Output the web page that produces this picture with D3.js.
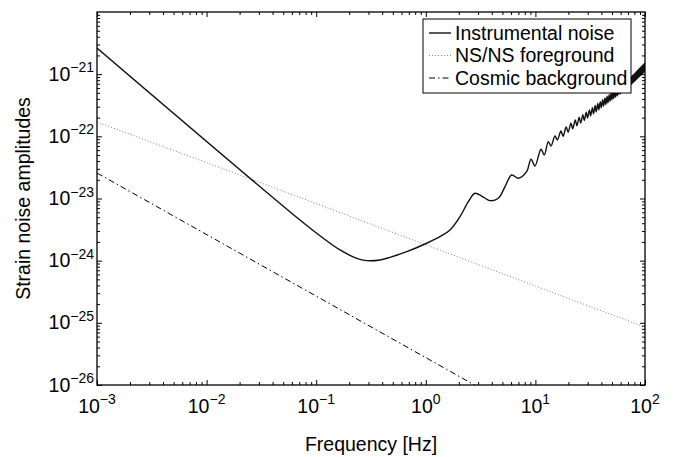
<!DOCTYPE html>
<html><head><meta charset="utf-8">
<script src="https://cdn.jsdelivr.net/npm/d3@7"></script>
<style>
body{margin:0;background:#fff}
text{font-family:"Liberation Sans",Arial,Helvetica,sans-serif;fill:#000}
</style>
</head><body><svg id="c" width="678" height="457"></svg>
<script>
// ---- data (strains stored as log10) ----
const xTickExps = [-3, -2, -1, 0, 1, 2];
const yTickExps = [-26, -25, -24, -23, -22, -21];
const seriesNames = ["Instrumental noise", "NS/NS foreground", "Cosmic background"];

const instFreq = [0.001, 0.0711, 0.1161, 0.1649, 0.2341, 0.2888, 0.3820, 0.4714, 0.670, 1.019,
  1.348, 1.663, 2.051, 2.443, 2.811, 3.236, 3.853, 4.586, 5.281, 6.077, 6.982, 8.31,
  9.120, 9.908, 11.25, 12.05, 13.12, 13.87, 15.10, 15.85,
  17.1, 17.9, 19.1, 19.9, 21.1, 21.9, 23.1, 23.9, 25.1, 25.9, 27.1, 27.9, 29.1, 29.9,
  31.1, 31.9, 33.1, 33.9, 35.1, 35.9, 37.1, 37.9, 39.1, 39.9, 41.1, 41.9, 43.1, 43.9,
  45.1, 45.9, 47.1, 47.9, 49.1, 49.9, 51.1, 51.9, 53.1, 53.9, 55.1, 55.9, 57.1, 57.9,
  59.1, 59.9, 61.1, 61.9, 63.1, 63.9, 65.1, 65.9, 67.1, 67.9, 69.1, 69.9, 71.1, 71.9,
  73.1, 73.9, 75.1, 75.9, 77.1, 77.9, 79.1, 79.9, 81.1, 81.9, 83.1, 83.9, 85.1, 85.9,
  87.1, 87.9, 89.1, 89.9, 91.1, 91.9, 93.1, 93.9, 95.1, 95.9, 97.1, 97.9, 99.1, 99.9];
const instLog = [-20.579, -23.346, -23.640, -23.828, -23.962, -24.000, -23.989, -23.946, -23.856, -23.720,
  -23.614, -23.507, -23.293, -23.051, -22.916, -22.960, -23.035, -22.997, -22.810, -22.622, -22.675, -22.569,
  -22.369, -22.477, -22.208, -22.300, -22.086, -22.155, -21.995, -22.059,
  -21.915, -21.998, -21.849, -21.934, -21.789, -21.877, -21.737, -21.829, -21.692, -21.786, -21.651, -21.745, -21.612, -21.707,
  -21.576, -21.672, -21.538, -21.639, -21.504, -21.605, -21.472, -21.572, -21.441, -21.543, -21.411, -21.514, -21.382, -21.489,
  -21.355, -21.462, -21.330, -21.438, -21.304, -21.415, -21.281, -21.392, -21.258, -21.369, -21.237, -21.349, -21.215, -21.327,
  -21.193, -21.310, -21.172, -21.287, -21.152, -21.267, -21.130, -21.249, -21.111, -21.229, -21.093, -21.212, -21.073, -21.193,
  -21.055, -21.176, -21.038, -21.160, -21.018, -21.140, -20.999, -21.120, -20.979, -21.104, -20.960, -21.085, -20.941, -21.068,
  -20.923, -21.050, -20.905, -21.034, -20.887, -21.018, -20.870, -21.001, -20.854, -20.986, -20.838, -20.971, -20.822, -20.955];

const fgFreq = [0.001, 0.0265, 1.02, 100];
const fgLog = [-21.77, -22.70, -23.75, -25.07];

const cbFreq = [0.001, 0.1, 1, 100];
const cbLog = [-22.59, -24.57, -25.56, -27.54];

// ---- layout ----
const L = 97, R = 645, T = 12, B = 385;
const svg = d3.select("#c");
const x = d3.scaleLog().domain([1e-3, 1e2]).range([L, R]);
const y = d3.scaleLog().domain([1e-26, 1e-20]).range([B, T]);

svg.append("defs").append("clipPath").attr("id", "clip")
  .append("rect").attr("x", L).attr("y", T).attr("width", R - L).attr("height", B - T);

const toPts = (fs, ls) => fs.map((f, i) => [f, Math.pow(10, ls[i])]);
const line = d3.line().x(d => x(d[0])).y(d => y(d[1])).curve(d3.curveCatmullRom.alpha(0.5));
const lineLin = d3.line().x(d => x(d[0])).y(d => y(d[1]));

const plot = svg.append("g").attr("clip-path", "url(#clip)");
plot.append("path").attr("d", lineLin(toPts(fgFreq, fgLog)))
  .attr("fill", "none").attr("stroke", "#808080").attr("stroke-width", 1).attr("stroke-dasharray", "1,2");
plot.append("path").attr("d", lineLin(toPts(cbFreq, cbLog)))
  .attr("fill", "none").attr("stroke", "#000").attr("stroke-width", 1).attr("stroke-dasharray", "6,3,1.5,3");
plot.append("path").attr("d", line(toPts(instFreq, instLog)))
  .attr("fill", "none").attr("stroke", "#111").attr("stroke-width", 1.4).attr("stroke-linejoin", "round");

// ---- legend ----
const lg = svg.append("g");
lg.append("rect").attr("x", 423).attr("y", 19).attr("width", 208).attr("height", 74)
  .attr("fill", "#fff").attr("stroke", "#000").attr("stroke-width", 1);
const lgStyles = [
  {stroke: "#111", dash: null, w: 1.4},
  {stroke: "#808080", dash: "1,2", w: 1},
  {stroke: "#000", dash: "6,3,1.5,3", w: 1}
];
seriesNames.forEach((name, i) => {
  const by = 39.5 + i * 22.5;
  const ly = by - 6.5;
  const s = lgStyles[i];
  const ln = lg.append("line").attr("x1", 429).attr("x2", 451).attr("y1", ly).attr("y2", ly)
    .attr("stroke", s.stroke).attr("stroke-width", s.w);
  if (s.dash) ln.attr("stroke-dasharray", s.dash);
  lg.append("text").attr("x", 455).attr("y", by).attr("font-size", 19.5).text(name);
});

// ---- axes ----
const minorVals = (lo, hi) => {
  const v = [];
  for (let d = lo; d < hi; d++) for (let k = 2; k <= 9; k++) v.push(k * Math.pow(10, d));
  return v;
};
const xMaj = xTickExps.map(e => Math.pow(10, e));
const yMaj = yTickExps.map(e => Math.pow(10, e));
const xMin = minorVals(-3, 2);
const yMin = minorVals(-26, -20);

function addAxis(gen, tr, vals, size) {
  const g = svg.append("g").attr("transform", tr)
    .call(gen.tickValues(vals).tickSize(size).tickSizeOuter(0).tickFormat(""));
  g.select(".domain").remove();
  g.selectAll("line").attr("stroke", "#000").attr("stroke-width", 1);
}
addAxis(d3.axisBottom(x), `translate(0,${B})`, xMaj, -5);
addAxis(d3.axisBottom(x), `translate(0,${B})`, xMin, -3);
addAxis(d3.axisTop(x), `translate(0,${T})`, xMaj, -5);
addAxis(d3.axisTop(x), `translate(0,${T})`, xMin, -3);
addAxis(d3.axisLeft(y), `translate(${L},0)`, yMaj, -5);
addAxis(d3.axisLeft(y), `translate(${L},0)`, yMin, -3);
addAxis(d3.axisRight(y), `translate(${R},0)`, yMaj, -5);
addAxis(d3.axisRight(y), `translate(${R},0)`, yMin, -3);

svg.append("rect").attr("x", L).attr("y", T).attr("width", R - L).attr("height", B - T)
  .attr("fill", "none").attr("stroke", "#000").attr("stroke-width", 1.3);

// tick labels
const sup = e => (e < 0 ? "\u2212" + (-e) : String(e));
xTickExps.forEach(e => {
  const t = svg.append("text").attr("x", x(Math.pow(10, e))).attr("y", 413)
    .attr("text-anchor", "middle").attr("font-size", 19.5);
  t.append("tspan").text("10");
  t.append("tspan").attr("dy", -9).attr("font-size", 14).text(sup(e));
});
yTickExps.forEach(e => {
  const t = svg.append("text").attr("x", 94).attr("y", y(Math.pow(10, e)) + 6.5)
    .attr("text-anchor", "end").attr("font-size", 19.5);
  t.append("tspan").text("10");
  t.append("tspan").attr("dy", -8.5).attr("font-size", 14).text(sup(e));
});

// axis titles
svg.append("text").attr("x", (L + R) / 2).attr("y", 451).attr("text-anchor", "middle")
  .attr("font-size", 19.5).text("Frequency [Hz]");
svg.append("text").attr("transform", `translate(30,198.5) rotate(-90)`)
  .attr("text-anchor", "middle").attr("font-size", 19.5).text("Strain noise amplitudes");
</script>
</body></html>
